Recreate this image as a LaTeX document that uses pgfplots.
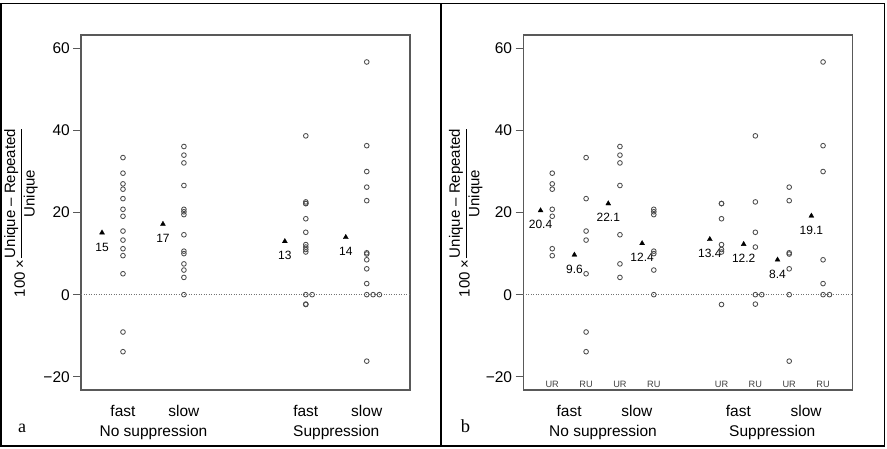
\documentclass[border=0pt]{standalone}
\usepackage{fontspec}
\setmainfont{Liberation Sans}
\newfontfamily\seriffont{Liberation Serif}
\usepackage{amsmath}
\usepackage{pgfplots}
\pgfplotsset{compat=1.18}

\pgfplotsset{
  panel/.style={
    scale only axis, width=329pt, height=355pt,
    ymin=-23.23, ymax=63.27,
    ytick={-20,0,20,40,60},
    yticklabels={−20,0,20,40,60},
    xtick=\empty,
    ytick pos=left, tick align=outside, major tick length=7.7pt,
    axis line style={black!65, line width=1.2pt},
    tick style={black!65, line width=1pt},
    yticklabel style={font=\fontsize{15.5}{18}\selectfont},
    clip=false,
    anchor=south west,
  },
  pts/.style={only marks, mark=o, mark size=2.35pt, mark options={draw=black!70, line width=0.85pt}},
  means/.style={only marks, mark=triangle*, mark size=2.9pt, mark options={fill=black, draw=black, line width=0.3pt}},
  zeroline/.style={black!55, line width=0.8pt, dash pattern=on 1pt off 1.5pt, forget plot},
}
\tikzset{
  lab/.style={anchor=base, yshift=-18.4pt, font=\fontsize{12}{14}\selectfont, inner sep=0pt},
  cat/.style={anchor=base, yshift=-26pt, font=\fontsize{15.5}{18}\selectfont, inner sep=0pt},
  grp/.style={anchor=base, yshift=-46.5pt, font=\fontsize{15.5}{18}\selectfont, inner sep=0pt},
  sub/.style={anchor=base, yshift=2.7pt, font=\fontsize{9.2}{11}\selectfont, text=black!75, inner sep=0pt},
  ylab/.style={rotate=90, anchor=center, font=\fontsize{15}{18}\selectfont, inner sep=0pt},
}

\newcommand{\ylabtext}{$\mbox{100 ×}\dfrac{\mbox{Unique – Repeated}}{\mbox{Unique}}$}

\begin{document}
\begin{tikzpicture}[x=1pt,y=1pt]
\useasboundingbox (0,0) rectangle (887,448);

% ---------------- panel a ----------------
\begin{axis}[panel, at={(81pt,58pt)}, xmin=0.311, xmax=5.71]
\addplot[zeroline] coordinates {(0.311,0) (5.71,0)};
% fast, no suppression
\addplot[pts] coordinates {(1,33.4)(1,29.6)(1,27.0)(1,25.7)(1,23.4)(1,20.8)(1,19.1)(1,15.5)(1,13.3)(1,11.2)(1,9.5)(1,5.1)(1,-9.1)(1,-13.9)};
% slow, no suppression
\addplot[pts] coordinates {(2,36.1)(2,34.0)(2,32.1)(2,26.6)(2,20.8)(2,20.2)(2,19.5)(2,14.6)(2,10.6)(2,10.0)(2,7.5)(2,6.0)(2,4.2)(2,0)};
% fast, suppression
\addplot[pts] coordinates {(4,38.7)(4,22.6)(4,22.2)(4,22.2)(4,18.5)(4,15.2)(4,12.2)(4,11.6)(4,11.0)(4,10.4)(4,0)(4.104,0)(4,-2.3)(4,-2.4)};
% slow, suppression
\addplot[pts] coordinates {(5,56.7)(5,36.3)(5,30.0)(5,26.2)(5,22.9)(5,10.2)(5,9.9)(5,8.5)(5,6.3)(5,2.7)(5,0)(5.104,0)(5.208,0)(5,-16.2)};
% means
\addplot[means] coordinates {(0.656,15.1)(1.656,17.2)(3.656,13.0)(4.656,14.0)};
\node[lab] at (axis cs:0.656,15.1) {15};
\node[lab] at (axis cs:1.656,17.2) {17};
\node[lab] at (axis cs:3.656,13.0) {13};
\node[lab] at (axis cs:4.656,14.0) {14};
\node[cat] at (axis cs:1,-23.23) {fast};
\node[cat] at (axis cs:2,-23.23) {slow};
\node[cat] at (axis cs:4,-23.23) {fast};
\node[cat] at (axis cs:5,-23.23) {slow};
\node[grp] at (axis cs:1.5,-23.23) {No suppression};
\node[grp] at (axis cs:4.5,-23.23) {Suppression};
\node[xshift=-60pt, ylab] at (rel axis cs:0,0.5) {\ylabtext};
\end{axis}

% ---------------- panel b ----------------
\begin{axis}[panel, at={(523.3pt,58pt)}, xmin=0.145, xmax=9.864]
\addplot[zeroline] coordinates {(0.145,0) (9.864,0)};
\addplot[pts] coordinates {(1,29.6)(1,27.0)(1,25.7)(1,20.8)(1,19.1)(1,11.2)(1,9.5)};
\addplot[pts] coordinates {(2,33.4)(2,23.4)(2,15.5)(2,13.3)(2,5.1)(2,-9.1)(2,-13.9)};
\addplot[pts] coordinates {(3,36.1)(3,34.0)(3,32.1)(3,26.6)(3,14.6)(3,7.5)(3,4.2)};
\addplot[pts] coordinates {(4,20.8)(4,20.2)(4,19.5)(4,10.6)(4,10.0)(4,6.0)(4,0)};
\addplot[pts] coordinates {(6,22.2)(6,22.2)(6,18.5)(6,12.2)(6,11.0)(6,10.4)(6,-2.4)};
\addplot[pts] coordinates {(7,38.7)(7,22.6)(7,15.2)(7,11.6)(7,0)(7.19,0)(7,-2.3)};
\addplot[pts] coordinates {(8,26.2)(8,22.9)(8,10.2)(8,9.9)(8,6.3)(8,0)(8,-16.2)};
\addplot[pts] coordinates {(9,56.7)(9,36.3)(9,30.0)(9,8.5)(9,2.7)(9,0)(9.19,0)};
\addplot[means] coordinates {(0.655,20.5)(1.655,9.7)(2.655,22.2)(3.655,12.5)(5.655,13.5)(6.655,12.3)(7.655,8.5)(8.655,19.2)};
\node[lab] at (axis cs:0.655,20.5) {20.4};
\node[lab] at (axis cs:1.655,9.7) {9.6};
\node[lab] at (axis cs:2.655,22.2) {22.1};
\node[lab] at (axis cs:3.655,12.5) {12.4};
\node[lab] at (axis cs:5.655,13.5) {13.4};
\node[lab] at (axis cs:6.655,12.3) {12.2};
\node[lab] at (axis cs:7.655,8.5) {8.4};
\node[lab] at (axis cs:8.655,19.2) {19.1};
\node[sub] at (axis cs:1,-23.23) {UR};
\node[sub] at (axis cs:2,-23.23) {RU};
\node[sub] at (axis cs:3,-23.23) {UR};
\node[sub] at (axis cs:4,-23.23) {RU};
\node[sub] at (axis cs:6,-23.23) {UR};
\node[sub] at (axis cs:7,-23.23) {RU};
\node[sub] at (axis cs:8,-23.23) {UR};
\node[sub] at (axis cs:9,-23.23) {RU};
\node[cat] at (axis cs:1.5,-23.23) {fast};
\node[cat] at (axis cs:3.5,-23.23) {slow};
\node[cat] at (axis cs:6.5,-23.23) {fast};
\node[cat] at (axis cs:8.5,-23.23) {slow};
\node[grp] at (axis cs:2.5,-23.23) {No suppression};
\node[grp] at (axis cs:7.5,-23.23) {Suppression};
\node[xshift=-57.6pt, ylab] at (rel axis cs:0,0.5) {\ylabtext};
\end{axis}

% frame and panel letters
\draw[line width=1.8pt] (1,2) rectangle (884.5,444.5);
\draw[line width=1.8pt] (441,2) -- (441,444.5);
\node[anchor=base, font=\seriffont\fontsize{18}{20}\selectfont, inner sep=0pt] at (22,15.7) {a};
\node[anchor=base, font=\seriffont\fontsize{18.5}{20}\selectfont, inner sep=0pt] at (465.5,15.7) {b};
\end{tikzpicture}
\end{document}
